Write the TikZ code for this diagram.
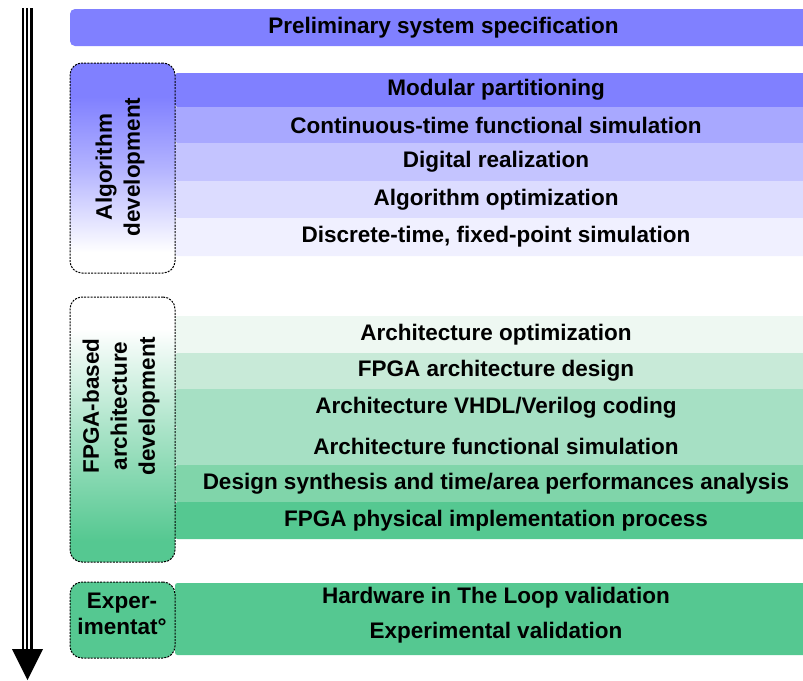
\documentclass[tikz,border=0pt]{standalone}
\usepackage{fontspec}
\setmainfont{Liberation Sans}

% step colours
\definecolor{blueA}{RGB}{128,128,255}
\definecolor{blueB}{RGB}{168,168,255}
\definecolor{blueC}{RGB}{196,196,255}
\definecolor{blueD}{RGB}{220,220,255}
\definecolor{blueE}{RGB}{240,240,255}
\definecolor{greenA}{RGB}{238,248,242}
\definecolor{greenB}{RGB}{200,234,216}
\definecolor{greenC}{RGB}{166,224,196}
\definecolor{greenD}{RGB}{166,224,196}
\definecolor{greenE}{RGB}{128,213,170}
\definecolor{greenF}{RGB}{85,200,145}

% phase box fills: the box spans 25bp (bottom) to 75bp (top)
\pgfdeclareverticalshading{algshade}{100bp}{color(0bp)=(white); color(30bp)=(white); color(50bp)=(blueA!60!white); color(67bp)=(blueA); color(100bp)=(blueA)}
\pgfdeclareverticalshading{fpgashade}{100bp}{color(0bp)=(greenF); color(29bp)=(greenF); color(50bp)=(greenF!50!white); color(69bp)=(white); color(100bp)=(white)}

\begin{document}
\begin{tikzpicture}[x=1pt,y=-1pt,
  font=\bfseries\fontsize{22.5}{28}\selectfont,
  stepbar/.style={rounded corners=2.5pt, inner sep=0pt, outer sep=0pt,
    minimum width=642pt, minimum height=#1, anchor=north west, text=black},
  phase/.style={draw=black, line width=1pt, dash pattern=on 2pt off 1.2pt,
    rounded corners=12pt, inner sep=0pt, outer sep=0pt, anchor=north west,
    minimum width=105pt, minimum height=#1},
  phaselabel/.style={align=center, inner sep=0pt}]

\clip (0,0) rectangle (803,680);
\fill[white] (0,0) rectangle (803,680);

% time arrow along the left edge
\coordinate (arrowtop) at (27,8);
\coordinate (arrowneck) at (27,650);
\coordinate (arrowtip) at (27.5,680);
\draw[line width=11pt, black] (arrowtop) -- (arrowneck);
\draw[line width=6.6pt, white] (arrowtop) -- (arrowneck);
\draw[line width=2.2pt, black] (arrowtop) -- (arrowneck);
\fill[black] (12,649) -- (43,649) -- (arrowtip) -- cycle;

% system specification
\node[stepbar=37pt, minimum width=747pt, rounded corners=5pt, fill=blueA] (spec) at (70,9) {Preliminary system specification};

% algorithm development steps
\node[stepbar=34pt, fill=blueA] (s1) at (175,73)  {Modular partitioning};
\node[stepbar=36pt, fill=blueB] (s2) at (175,107) {Continuous-time functional simulation};
\node[stepbar=38pt, fill=blueC] (s3) at (175,143) {Digital realization};
\node[stepbar=37pt, fill=blueD] (s4) at (175,181) {Algorithm optimization};
\node[stepbar=38pt, fill=blueE] (s5) at (175,218) {Discrete-time, fixed-point simulation};

% FPGA-based architecture development steps
\node[stepbar=37pt, fill=greenA] (f1) at (175,316) {Architecture optimization};
\node[stepbar=36pt, fill=greenB] (f2) at (175,353) {FPGA architecture design};
\node[stepbar=38pt, fill=greenC] (f3) at (175,389) {Architecture VHDL/Verilog coding};
\node[stepbar=38pt, fill=greenD] (f4) at (175,427) {Architecture functional simulation};
\node[stepbar=37pt, fill=greenE] (f5) at (175,465) {Design synthesis and time/area performances analysis};
\node[stepbar=37pt, fill=greenF] (f6) at (175,502) {FPGA physical implementation process};

% experimentation steps
\node[stepbar=72pt, fill=greenF] (e0) at (175,583) {};
\node[inner sep=0pt] (e1) at (496,598) {Hardware in The Loop validation};
\node[inner sep=0pt] (e2) at (496,633) {Experimental validation};

% phase boxes
\node[phase=210pt, shading=algshade] (alg) at (70,63) {};
\node[phaselabel, rotate=90] (algtext) at (120,167) {Algorithm\\development};

\node[phase=265pt, shading=fpgashade] (fpga) at (70,297) {};
\node[phaselabel, rotate=90] (fpgatext) at (121,406) {FPGA-based\\architecture\\development};

\node[phase=76pt, fill=greenF] (exp) at (70,582) {};
\node[phaselabel, font=\bfseries\fontsize{22.5}{26}\selectfont] (exptext) at (122,614) {Exper-\\imentat°};

\end{tikzpicture}
\end{document}
